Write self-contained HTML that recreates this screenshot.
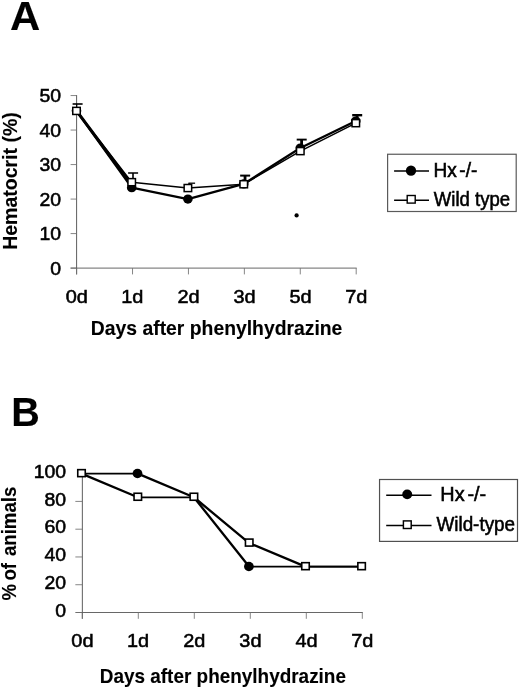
<!DOCTYPE html>
<html><head><meta charset="utf-8"><title>Figure</title>
<style>
html,body{margin:0;padding:0;background:#fff;}
svg{display:block;font-family:"Liberation Sans",sans-serif;}
</style></head><body>
<svg width="520" height="688" viewBox="0 0 520 688">
<rect width="520" height="688" fill="#fff"/>
<text transform="translate(9.95,30.00) scale(1.0467,1.0000)" font-size="40" font-weight="bold" fill="#000" stroke="#000" stroke-width="0.12">A</text>
<line x1="76.60" y1="95.05" x2="76.60" y2="274.40" stroke="#4c4c4c" stroke-width="0.9" stroke-linecap="butt"/>
<line x1="70.60" y1="268.10" x2="356.70" y2="268.10" stroke="#4c4c4c" stroke-width="0.85" stroke-linecap="butt"/>
<line x1="70.60" y1="268.10" x2="76.60" y2="268.10" stroke="#707070" stroke-width="0.85" stroke-linecap="butt"/>
<text transform="translate(50.29,274.80) scale(1.0500,1.0000)" font-size="18.5" fill="#000" stroke="#000" stroke-width="0.55">0</text>
<line x1="70.60" y1="233.59" x2="76.60" y2="233.59" stroke="#707070" stroke-width="0.85" stroke-linecap="butt"/>
<text transform="translate(39.53,240.29) scale(1.0500,1.0000)" font-size="18.5" fill="#000" stroke="#000" stroke-width="0.55">10</text>
<line x1="70.60" y1="199.08" x2="76.60" y2="199.08" stroke="#707070" stroke-width="0.85" stroke-linecap="butt"/>
<text transform="translate(39.53,205.78) scale(1.0500,1.0000)" font-size="18.5" fill="#000" stroke="#000" stroke-width="0.55">20</text>
<line x1="70.60" y1="164.57" x2="76.60" y2="164.57" stroke="#707070" stroke-width="0.85" stroke-linecap="butt"/>
<text transform="translate(39.53,171.27) scale(1.0500,1.0000)" font-size="18.5" fill="#000" stroke="#000" stroke-width="0.55">30</text>
<line x1="70.60" y1="130.06" x2="76.60" y2="130.06" stroke="#707070" stroke-width="0.85" stroke-linecap="butt"/>
<text transform="translate(39.53,136.76) scale(1.0500,1.0000)" font-size="18.5" fill="#000" stroke="#000" stroke-width="0.55">40</text>
<line x1="70.60" y1="95.55" x2="76.60" y2="95.55" stroke="#707070" stroke-width="0.85" stroke-linecap="butt"/>
<text transform="translate(39.53,102.25) scale(1.0500,1.0000)" font-size="18.5" fill="#000" stroke="#000" stroke-width="0.55">50</text>
<line x1="76.60" y1="268.10" x2="76.60" y2="274.40" stroke="#707070" stroke-width="0.85" stroke-linecap="butt"/>
<text transform="translate(65.70,302.60) scale(1.0600,1.0000)" font-size="18.8" fill="#000" stroke="#000" stroke-width="0.55">0d</text>
<line x1="132.52" y1="268.10" x2="132.52" y2="274.40" stroke="#707070" stroke-width="0.85" stroke-linecap="butt"/>
<text transform="translate(121.29,302.60) scale(1.0600,1.0000)" font-size="18.8" fill="#000" stroke="#000" stroke-width="0.55">1d</text>
<line x1="188.44" y1="268.10" x2="188.44" y2="274.40" stroke="#707070" stroke-width="0.85" stroke-linecap="butt"/>
<text transform="translate(177.41,302.60) scale(1.0600,1.0000)" font-size="18.8" fill="#000" stroke="#000" stroke-width="0.55">2d</text>
<line x1="244.36" y1="268.10" x2="244.36" y2="274.40" stroke="#707070" stroke-width="0.85" stroke-linecap="butt"/>
<text transform="translate(233.46,302.60) scale(1.0600,1.0000)" font-size="18.8" fill="#000" stroke="#000" stroke-width="0.55">3d</text>
<line x1="300.28" y1="268.10" x2="300.28" y2="274.40" stroke="#707070" stroke-width="0.85" stroke-linecap="butt"/>
<text transform="translate(289.38,302.60) scale(1.0600,1.0000)" font-size="18.8" fill="#000" stroke="#000" stroke-width="0.55">5d</text>
<line x1="356.20" y1="268.10" x2="356.20" y2="274.40" stroke="#707070" stroke-width="0.85" stroke-linecap="butt"/>
<text transform="translate(345.17,302.60) scale(1.0600,1.0000)" font-size="18.8" fill="#000" stroke="#000" stroke-width="0.55">7d</text>
<text transform="translate(90.85,334.90) scale(1.0029,1.0000)" font-size="19.3" font-weight="bold" fill="#000" stroke="#000" stroke-width="0.12">Days after phenylhydrazine</text>
<text transform="translate(17.20,249.83) rotate(-90) scale(1.0608,1.0800)" font-size="18.4" font-weight="bold" fill="#000" stroke="#000" stroke-width="0.12">Hematocrit (%)</text>
<line x1="77.50" y1="112.08" x2="131.70" y2="184.93" stroke="#000" stroke-width="3.0" stroke-linecap="butt"/>
<polyline points="76.50,110.73 131.70,187.69 187.90,199.08 243.75,183.90 300.30,148.01 355.80,121.09" fill="none" stroke="#000" stroke-width="2.25" stroke-linejoin="round"/>
<polyline points="76.50,110.91 131.70,182.17 187.90,188.04 243.75,184.24 300.30,151.11 355.80,123.16" fill="none" stroke="#000" stroke-width="1.5" stroke-linejoin="round"/>
<ellipse cx="76.50" cy="110.73" rx="4.8" ry="3.2" fill="#000"/>
<ellipse cx="131.70" cy="187.69" rx="4.8" ry="4.6" fill="#000"/>
<ellipse cx="187.90" cy="199.08" rx="4.8" ry="4.6" fill="#000"/>
<ellipse cx="243.75" cy="183.90" rx="4.8" ry="4.6" fill="#000"/>
<ellipse cx="300.30" cy="148.01" rx="4.8" ry="4.6" fill="#000"/>
<ellipse cx="355.80" cy="121.09" rx="4.8" ry="4.6" fill="#000"/>
<line x1="76.70" y1="104.00" x2="76.70" y2="110.91" stroke="#000" stroke-width="1.2" stroke-linecap="butt"/>
<line x1="72.60" y1="104.00" x2="82.60" y2="104.00" stroke="#000" stroke-width="1.6" stroke-linecap="butt"/>
<rect x="72.75" y="107.36" width="7.5" height="7.1" fill="#fff" stroke="#000" stroke-width="1.5"/>
<line x1="133.00" y1="173.00" x2="133.00" y2="182.17" stroke="#000" stroke-width="1.6" stroke-linecap="butt"/>
<line x1="128.10" y1="173.00" x2="138.10" y2="173.00" stroke="#000" stroke-width="1.5" stroke-linecap="butt"/>
<rect x="127.95" y="178.62" width="7.5" height="7.1" fill="#fff" stroke="#000" stroke-width="1.5"/>
<line x1="189.20" y1="183.20" x2="189.20" y2="188.04" stroke="#000" stroke-width="1.6" stroke-linecap="butt"/>
<line x1="188.40" y1="183.20" x2="195.10" y2="183.20" stroke="#000" stroke-width="1.3" stroke-linecap="butt"/>
<rect x="184.15" y="184.49" width="7.5" height="7.1" fill="#fff" stroke="#000" stroke-width="1.5"/>
<line x1="245.05" y1="175.60" x2="245.05" y2="184.24" stroke="#000" stroke-width="2.8" stroke-linecap="butt"/>
<line x1="240.15" y1="175.60" x2="250.15" y2="175.60" stroke="#000" stroke-width="2.0" stroke-linecap="butt"/>
<rect x="240.00" y="180.69" width="7.5" height="7.1" fill="#fff" stroke="#000" stroke-width="1.5"/>
<line x1="301.60" y1="139.60" x2="301.60" y2="151.11" stroke="#000" stroke-width="2.8" stroke-linecap="butt"/>
<line x1="296.70" y1="139.60" x2="306.70" y2="139.60" stroke="#000" stroke-width="1.9" stroke-linecap="butt"/>
<rect x="296.55" y="147.56" width="7.5" height="7.1" fill="#fff" stroke="#000" stroke-width="1.5"/>
<line x1="357.10" y1="115.20" x2="357.10" y2="123.16" stroke="#000" stroke-width="2.8" stroke-linecap="butt"/>
<line x1="352.20" y1="115.20" x2="362.20" y2="115.20" stroke="#000" stroke-width="2.4" stroke-linecap="butt"/>
<rect x="352.05" y="119.61" width="7.5" height="7.1" fill="#fff" stroke="#000" stroke-width="1.5"/>
<ellipse cx="296.60" cy="215.40" rx="2.15" ry="2.15" fill="#000"/>
<rect x="387.6" y="154.25" width="128.6" height="57.25" fill="none" stroke="#5a5a5a" stroke-width="1.2"/>
<line x1="394.10" y1="171.00" x2="429.00" y2="171.00" stroke="#000" stroke-width="1.6" stroke-linecap="butt"/>
<ellipse cx="411.00" cy="170.70" rx="5.15" ry="5.15" fill="#000"/>
<line x1="394.10" y1="200.20" x2="429.00" y2="200.20" stroke="#000" stroke-width="1.6" stroke-linecap="butt"/>
<rect x="407.20" y="195.50" width="8.0" height="7.6" fill="#fff" stroke="#000" stroke-width="1.4"/>
<text transform="translate(433.42,176.90) scale(0.9727,1)" font-size="19.6" fill="#000" stroke="#000" stroke-width="0.55">Hx <tspan dx="-2.72">-/-</tspan></text>
<text transform="translate(433.78,205.60) scale(0.9482,1.0000)" font-size="19.6" fill="#000" stroke="#000" stroke-width="0.55">Wild type</text>
<text transform="translate(11.15,426.25) scale(0.9898,1.0000)" font-size="40" font-weight="bold" fill="#000" stroke="#000" stroke-width="0.12">B</text>
<line x1="82.35" y1="476.65" x2="82.35" y2="618.80" stroke="#4c4c4c" stroke-width="0.9" stroke-linecap="butt"/>
<line x1="75.75" y1="612.50" x2="362.80" y2="612.50" stroke="#4c4c4c" stroke-width="0.85" stroke-linecap="butt"/>
<line x1="75.35" y1="612.50" x2="82.35" y2="612.50" stroke="#707070" stroke-width="0.85" stroke-linecap="butt"/>
<line x1="75.35" y1="584.73" x2="82.35" y2="584.73" stroke="#707070" stroke-width="0.85" stroke-linecap="butt"/>
<line x1="75.35" y1="556.96" x2="82.35" y2="556.96" stroke="#707070" stroke-width="0.85" stroke-linecap="butt"/>
<line x1="75.35" y1="529.19" x2="82.35" y2="529.19" stroke="#707070" stroke-width="0.85" stroke-linecap="butt"/>
<line x1="75.35" y1="501.42" x2="82.35" y2="501.42" stroke="#707070" stroke-width="0.85" stroke-linecap="butt"/>
<text transform="translate(55.29,616.70) scale(1.0500,1.0000)" font-size="18.5" fill="#000" stroke="#000" stroke-width="0.55">0</text>
<text transform="translate(44.53,588.93) scale(1.0500,1.0000)" font-size="18.5" fill="#000" stroke="#000" stroke-width="0.55">20</text>
<text transform="translate(44.53,561.16) scale(1.0500,1.0000)" font-size="18.5" fill="#000" stroke="#000" stroke-width="0.55">40</text>
<text transform="translate(44.53,533.39) scale(1.0500,1.0000)" font-size="18.5" fill="#000" stroke="#000" stroke-width="0.55">60</text>
<text transform="translate(44.53,505.62) scale(1.0500,1.0000)" font-size="18.5" fill="#000" stroke="#000" stroke-width="0.55">80</text>
<text transform="translate(33.64,477.85) scale(1.0500,1.0000)" font-size="18.5" fill="#000" stroke="#000" stroke-width="0.55">100</text>
<line x1="82.30" y1="612.50" x2="82.30" y2="618.80" stroke="#707070" stroke-width="0.85" stroke-linecap="butt"/>
<text transform="translate(71.30,647.40) scale(1.0600,1.0000)" font-size="18.8" fill="#000" stroke="#000" stroke-width="0.55">0d</text>
<line x1="138.30" y1="612.50" x2="138.30" y2="618.80" stroke="#707070" stroke-width="0.85" stroke-linecap="butt"/>
<text transform="translate(126.97,647.40) scale(1.0600,1.0000)" font-size="18.8" fill="#000" stroke="#000" stroke-width="0.55">1d</text>
<line x1="194.30" y1="612.50" x2="194.30" y2="618.80" stroke="#707070" stroke-width="0.85" stroke-linecap="butt"/>
<text transform="translate(183.17,647.40) scale(1.0600,1.0000)" font-size="18.8" fill="#000" stroke="#000" stroke-width="0.55">2d</text>
<line x1="250.30" y1="612.50" x2="250.30" y2="618.80" stroke="#707070" stroke-width="0.85" stroke-linecap="butt"/>
<text transform="translate(239.30,647.40) scale(1.0600,1.0000)" font-size="18.8" fill="#000" stroke="#000" stroke-width="0.55">3d</text>
<line x1="306.30" y1="612.50" x2="306.30" y2="618.80" stroke="#707070" stroke-width="0.85" stroke-linecap="butt"/>
<text transform="translate(295.50,647.40) scale(1.0600,1.0000)" font-size="18.8" fill="#000" stroke="#000" stroke-width="0.55">4d</text>
<line x1="362.30" y1="612.50" x2="362.30" y2="618.80" stroke="#707070" stroke-width="0.85" stroke-linecap="butt"/>
<text transform="translate(351.17,647.40) scale(1.0600,1.0000)" font-size="18.8" fill="#000" stroke="#000" stroke-width="0.55">7d</text>
<text transform="translate(99.77,682.70) scale(0.9816,1.0000)" font-size="19.3" font-weight="bold" fill="#000" stroke="#000" stroke-width="0.12">Days after phenylhydrazine</text>
<text transform="translate(16.20,600.50) rotate(-90) scale(1.0067,1.0800)" font-size="18.5" font-weight="bold" fill="#000" stroke="#000" stroke-width="0.12">%<tspan dx="-1.8"> of</tspan><tspan dx="1.8"> animals</tspan></text>
<line x1="81.50" y1="473.65" x2="137.80" y2="473.65" stroke="#000" stroke-width="1.75" stroke-linecap="round"/>
<line x1="137.80" y1="473.65" x2="193.90" y2="497.25" stroke="#000" stroke-width="2.3" stroke-linecap="round"/>
<line x1="193.90" y1="497.25" x2="249.20" y2="566.68" stroke="#000" stroke-width="2.3" stroke-linecap="round"/>
<line x1="249.20" y1="566.68" x2="305.50" y2="566.68" stroke="#000" stroke-width="1.75" stroke-linecap="round"/>
<line x1="305.50" y1="566.68" x2="361.60" y2="566.68" stroke="#000" stroke-width="1.75" stroke-linecap="round"/>
<line x1="81.50" y1="473.65" x2="137.80" y2="497.25" stroke="#000" stroke-width="2.3" stroke-linecap="round"/>
<line x1="137.80" y1="497.25" x2="193.90" y2="497.25" stroke="#000" stroke-width="1.75" stroke-linecap="round"/>
<line x1="193.90" y1="497.25" x2="249.20" y2="543.08" stroke="#000" stroke-width="2.3" stroke-linecap="round"/>
<line x1="249.20" y1="543.08" x2="305.50" y2="566.68" stroke="#000" stroke-width="2.3" stroke-linecap="round"/>
<line x1="305.50" y1="566.68" x2="361.60" y2="566.68" stroke="#000" stroke-width="1.75" stroke-linecap="round"/>
<ellipse cx="137.50" cy="473.45" rx="4.9" ry="4.7" fill="#000"/>
<ellipse cx="248.90" cy="566.48" rx="4.9" ry="4.7" fill="#000"/>
<rect x="77.75" y="469.65" width="7.5" height="7.0" fill="#fff" stroke="#000" stroke-width="1.6"/>
<rect x="134.05" y="493.25" width="7.5" height="7.0" fill="#fff" stroke="#000" stroke-width="1.6"/>
<rect x="190.15" y="493.25" width="7.5" height="7.0" fill="#fff" stroke="#000" stroke-width="1.6"/>
<rect x="245.45" y="539.08" width="7.5" height="7.0" fill="#fff" stroke="#000" stroke-width="1.6"/>
<rect x="301.75" y="562.68" width="7.5" height="7.0" fill="#fff" stroke="#000" stroke-width="1.6"/>
<rect x="357.85" y="562.68" width="7.5" height="7.0" fill="#fff" stroke="#000" stroke-width="1.6"/>
<rect x="379.55" y="479.5" width="137.95" height="61.9" fill="none" stroke="#505050" stroke-width="1.2"/>
<line x1="386.20" y1="495.20" x2="431.50" y2="495.20" stroke="#000" stroke-width="1.6" stroke-linecap="butt"/>
<ellipse cx="407.20" cy="494.40" rx="5.0" ry="4.85" fill="#000"/>
<line x1="386.20" y1="525.50" x2="431.50" y2="525.50" stroke="#000" stroke-width="1.6" stroke-linecap="butt"/>
<rect x="403.40" y="520.90" width="7.8" height="7.6" fill="#fff" stroke="#000" stroke-width="1.45"/>
<text transform="translate(440.35,500.50) scale(1.0136,1)" font-size="19.6" fill="#000" stroke="#000" stroke-width="0.55">Hx <tspan dx="-2.68">-/-</tspan></text>
<text transform="translate(436.48,530.50) scale(0.9622,1.0000)" font-size="19.6" fill="#000" stroke="#000" stroke-width="0.55">Wild-type</text>
</svg>
</body></html>
